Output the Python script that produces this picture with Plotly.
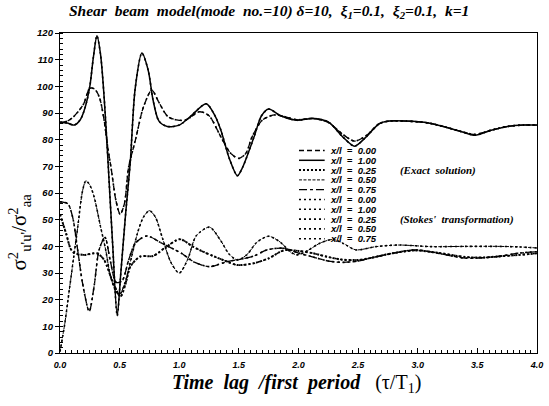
import plotly.graph_objects as go

# ---------------- data ----------------
T_X000 = [0.00, 0.06, 0.11, 0.16, 0.20, 0.25, 0.29, 0.33, 0.37, 0.40, 0.43, 0.47, 0.505, 0.54, 0.576,
          0.632, 0.70, 0.77, 0.83, 0.91, 1.046, 1.17, 1.25, 1.35, 1.43, 1.50, 1.56, 1.61, 1.70, 1.80,
          1.90, 1.985, 2.124, 2.25, 2.373, 2.47, 2.566, 2.677, 2.76, 2.90, 3.09, 3.23, 3.37, 3.48,
          3.617, 3.755, 3.88, 4.00]
Y_X000 = [86.5, 87, 88.5, 91, 93.6, 99.3, 99, 96, 87.3, 77.3, 69, 57, 52, 56, 69.8,
          79.8, 92.3, 98.6, 94, 88.5, 87.3, 90.5, 89, 81, 75, 73, 75, 81, 87.5, 89.3,
          88.5, 87.5, 88, 86.5, 82, 79.5, 81.5, 86, 87, 87, 86.3, 84.8, 83, 82,
          83.6, 85, 85.5, 85.5]

T_X100 = [0.00, 0.06, 0.12, 0.17, 0.21, 0.25, 0.28, 0.31, 0.34, 0.37, 0.40, 0.44, 0.48, 0.51, 0.55,
          0.59, 0.63, 0.687, 0.74, 0.78, 0.83, 0.90, 1.00, 1.10, 1.226, 1.30, 1.35, 1.42, 1.488,
          1.53, 1.627, 1.69, 1.75, 1.85, 1.985, 2.124, 2.25, 2.373, 2.47, 2.566, 2.677, 2.76,
          2.90, 3.09, 3.23, 3.37, 3.48, 3.617, 3.755, 3.88, 4.00]
Y_X100 = [86.5, 86.3, 85.5, 87.5, 92, 100, 111, 119, 112, 96, 74, 42, 14, 30, 52,
          72, 99, 112.5, 106, 95, 87, 85, 85.5, 89, 93.5, 89, 83.5, 73, 66.5,
          69.5, 81, 89, 91.5, 89, 87.3, 88, 86.7, 81, 77.6, 81, 86, 87,
          87, 86.3, 84.8, 83, 81.7, 83.6, 85, 85.5, 85.5]

T_X025 = [0.00, 0.05, 0.09, 0.12, 0.20, 0.31, 0.37, 0.44, 0.507, 0.55, 0.59, 0.673, 0.78, 0.894,
          1.005, 1.115, 1.20, 1.295, 1.39, 1.488, 1.627, 1.75, 1.876, 2.00, 2.124, 2.25, 2.373,
          2.50, 2.60, 2.80, 2.98, 3.17, 3.40, 3.55, 3.67, 3.85, 4.00]
Y_X025 = [52, 45, 39, 37.5, 36.8, 37.4, 34.9, 27, 21.2, 26, 32.4, 36.2, 36.4, 39.9,
          42.7, 39.9, 38, 36.2, 34.5, 33, 33.7, 35.5, 38.5, 38.3, 37.4, 36, 35,
          34.9, 35.6, 37.5, 38.5, 37.6, 36, 35.8, 36.2, 36.8, 37.4]

T_X050 = [0.00, 0.04, 0.079, 0.115, 0.148, 0.19, 0.217, 0.25, 0.286, 0.34, 0.383, 0.424, 0.47,
          0.50, 0.55, 0.60, 0.65, 0.70, 0.75, 0.80, 0.86, 0.93, 1.00, 1.07, 1.143, 1.254, 1.35,
          1.42, 1.49, 1.57, 1.65, 1.75, 1.85, 1.93, 1.99, 2.08, 2.18, 2.29, 2.38, 2.48, 2.65,
          2.84, 3.12, 3.40, 3.67, 3.85, 4.00]
Y_X050 = [0.5, 11, 24, 36, 47, 61, 64.6, 63, 58.6, 47.4, 38.7, 28.7, 23,
          22, 27, 36, 45, 51, 53.4, 51, 43, 34, 30, 35, 44, 47.2, 42,
          37, 34.9, 37, 41.5, 43.8, 41.5, 38, 36.8, 38.5, 41.2, 42.6, 41, 38.7, 39.9,
          40.5, 39.9, 40, 40, 39.8, 39.4]

T_X075 = [0.00, 0.065, 0.106, 0.148, 0.19, 0.245, 0.286, 0.328, 0.377, 0.42, 0.471, 0.52, 0.576,
          0.632, 0.728, 0.853, 1.018, 1.13, 1.254, 1.405, 1.55, 1.627, 1.737, 1.876, 2.00, 2.124,
          2.25, 2.373, 2.50, 2.60, 2.80, 2.98, 3.17, 3.40, 3.67, 3.85, 4.00]
Y_X075 = [56.7, 56, 51, 38.7, 26, 15.6, 25, 38.7, 43.4, 35, 26.5, 27, 34.9,
          41.2, 43.9, 41.2, 37.4, 34, 32.4, 34.3, 35.5, 36.4, 38.7, 39.3, 37.5, 36,
          34.5, 34, 34.5, 35.6, 37.5, 38.7, 37.4, 35.6, 36.2, 37.5, 38]

# Stokes' transformation results coincide with the exact curves in the picture
STOKES = [(T_X000, Y_X000), (T_X100, Y_X100), (T_X025, Y_X025), (T_X050, Y_X050), (T_X075, Y_X075)]

LEGEND_LABELS = ["0.00", "1.00", "0.25", "0.50", "0.75", "0.00", "1.00", "0.25", "0.50", "0.75"]
LEGEND_NOTES = {2: "(Exact\u00a0\u00a0solution)", 7: "(Stokes'\u00a0\u00a0transformation)"}
X_TICKS = [0.0, 0.5, 1.0, 1.5, 2.0, 2.5, 3.0, 3.5, 4.0]
Y_TICKS = list(range(0, 121, 10))

# ---------------- styles ----------------
EXACT = [
    (T_X000, Y_X000, dict(color="black", width=1.3, dash="5px,3px")),
    (T_X100, Y_X100, dict(color="black", width=1.5, dash="solid")),
    (T_X025, Y_X025, dict(color="black", width=2.0, dash="2px,2px")),
    (T_X050, Y_X050, dict(color="black", width=1.0, dash="3px,1.5px")),
    (T_X075, Y_X075, dict(color="black", width=1.3, dash="8px,3px,3px,3px")),
]
STOKES_LINE = dict(color="black", width=1.6, dash="2px,3px")

fig = go.Figure()
for t, y, ln in EXACT:
    fig.add_trace(go.Scatter(x=t, y=y, mode="lines", line=dict(shape="spline", smoothing=0.8, **ln),
                             showlegend=False, hoverinfo="skip"))
for t, y in STOKES:
    fig.add_trace(go.Scatter(x=t, y=y, mode="lines", line=dict(shape="spline", smoothing=0.8, **STOKES_LINE),
                             showlegend=False, hoverinfo="skip"))

# ---------------- geometry ----------------
W, H = 549, 406
L, R, T, B = 60, 6, 33, 53
PW, PH = W - L - R, H - T - B
NB = "\u00a0"


def px(xp):
    return (xp - L) / PW


def py(yp):
    return (H - B - yp) / PH


legend_styles = [e[2] for e in EXACT] + [STOKES_LINE] * 5
shapes = []
annotations = []
for i, (lab, st) in enumerate(zip(LEGEND_LABELS, legend_styles)):
    yy = py(150.5 + 9.8 * i)
    shapes.append(dict(type="line", xref="paper", yref="paper", x0=px(302), x1=px(328), y0=yy, y1=yy,
                       line=dict(color=st["color"], width=st["width"], dash=st["dash"])))
    txt = "<b><i>x/l" + NB * 2 + "=" + NB * 2 + lab + "</i></b>"
    if i in LEGEND_NOTES:
        txt += (NB * 9 + "<span style=\"font-family:'Liberation Serif';font-size:11px\"><b><i>"
                + LEGEND_NOTES[i] + "</i></b></span>")
    annotations.append(dict(xref="paper", yref="paper", x=px(332), y=yy, xanchor="left", yanchor="middle",
                            text=txt, showarrow=False, borderpad=0,
                            font=dict(family="Liberation Sans", size=9.5, color="black")))
# title
title_txt = ("<b><i>Shear" + NB * 2 + "beam" + NB * 2 + "model(mode" + NB * 2 + "no.=10)" + NB + "δ=10," + NB * 2
             + "ξ<sub>1</sub>=0.1," + NB * 2 + "ξ<sub>2</sub>=0.1," + NB * 2 + "k=1</i></b>")
annotations.append(dict(xref="paper", yref="paper", x=px(272), y=py(12), xanchor="center", yanchor="middle",
                        text=title_txt, showarrow=False,
                        font=dict(family="Liberation Serif", size=15.5, color="black")))
# x axis title
xt = ("<b><i>Time" + NB * 2 + "lag" + NB * 2 + "/first" + NB * 2 + "period</i></b>" + NB * 3 + "(τ/T<sub>1</sub>)")
annotations.append(dict(xref="paper", yref="paper", x=px(299), y=py(383), xanchor="center", yanchor="middle",
                        text=xt, showarrow=False, font=dict(family="Liberation Serif", size=20, color="black")))
# y axis title
annotations.append(dict(xref="paper", yref="paper", x=px(18), y=py(232), xanchor="center", yanchor="middle",
                        textangle=-90,
                        text="σ<sup>2</sup><sub>u'u'</sub>/σ<sup>2</sup><sub>aa</sub>",
                        showarrow=False, font=dict(family="Liberation Serif", size=21, color="black")))

fig.update_layout(
    width=W, height=H, margin=dict(l=L, r=R, t=T, b=B),
    paper_bgcolor="white", plot_bgcolor="white",
    shapes=shapes, annotations=annotations, showlegend=False,
)
fig.update_xaxes(range=[0, 4.0005], tickvals=X_TICKS, ticktext=[f"{v:.1f}" for v in X_TICKS],
                 ticks="inside", ticklen=5, tickcolor="black", tickwidth=1,
                 minor=dict(dtick=0.05, ticks="inside", ticklen=3, tickcolor="black"),
                 showline=True, linecolor="black", linewidth=1.3, mirror=True,
                 showgrid=False, zeroline=False, ticklabelstandoff=3, ticklabeloverflow="allow",
                 tickfont=dict(family="Liberation Sans", size=9, color="black", weight="bold", style="italic"))
fig.update_yaxes(range=[0, 120.05], tickvals=Y_TICKS, ticktext=[str(v) for v in Y_TICKS],
                 ticks="outside", ticklen=4, tickcolor="black", tickwidth=1,
                 minor=dict(dtick=2, ticks="inside", ticklen=3, tickcolor="black"),
                 showline=True, linecolor="black", linewidth=1.3, mirror=True,
                 showgrid=False, zeroline=False,
                 tickfont=dict(family="Liberation Sans", size=9.5, color="black", weight="bold", style="italic"))

fig.write_html("out.html")
